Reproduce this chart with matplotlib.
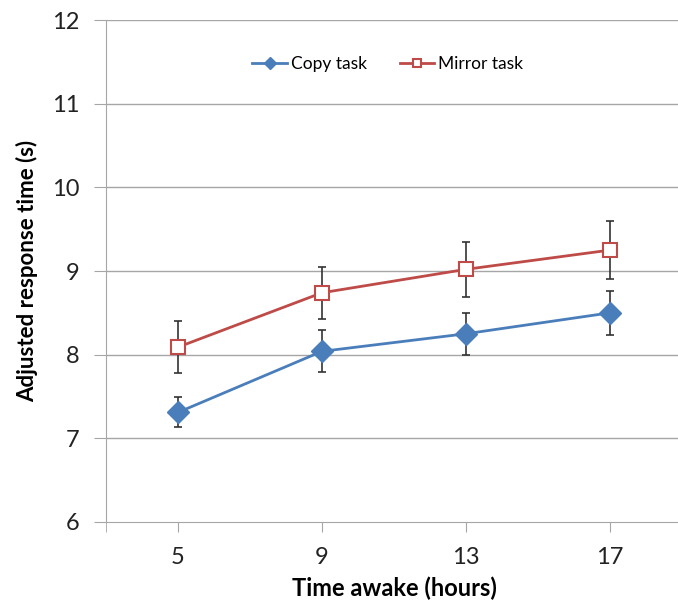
import matplotlib
matplotlib.use("Agg")
import matplotlib.pyplot as plt
import numpy as np

plt.rcParams['font.family'] = ['Lato', 'DejaVu Sans']

hours = ["5", "9", "13", "17"]
copy_mean = [7.31, 8.04, 8.25, 8.50]
copy_err = [0.18, 0.25, 0.25, 0.26]
mirror_mean = [8.09, 8.74, 9.02, 9.25]
mirror_err = [0.31, 0.31, 0.33, 0.35]
yticks = [6, 7, 8, 9, 10, 11, 12]

fig = plt.figure(figsize=(6.78, 6.05), dpi=100)
ax = fig.add_axes([106/678, 83/605, 576/678, 502/605])

x = np.arange(len(hours))
grid_col = "#a6a6a6"
for y in yticks[1:]:
    ax.axhline(y, color=grid_col, lw=1.0, zorder=0)

ax.errorbar(x, copy_mean, yerr=copy_err, fmt='none', ecolor='#333333', elinewidth=1.2,
            capsize=3, capthick=1.2, zorder=2)
ax.errorbar(x, mirror_mean, yerr=mirror_err, fmt='none', ecolor='#333333', elinewidth=1.2,
            capsize=3, capthick=1.2, zorder=2)
ax.plot(x, copy_mean, color='#4a7ebb', lw=2, marker='D', markersize=11,
        markerfacecolor='#4a7ebb', markeredgecolor='#4a7ebb', label='Copy task', zorder=3)
ax.plot(x, mirror_mean, color='#be4b48', lw=2, marker='s', markersize=10,
        markerfacecolor='white', markeredgecolor='#be4b48', markeredgewidth=1.5,
        label='Mirror task', zorder=3)

ax.set_xlim(-0.5, 3.5)
ax.set_ylim(6, 12)
ax.set_yticks(yticks)
ax.set_xticks(x)
ax.set_xticklabels(hours)
ax.set_xticks([-0.5], minor=True)

for s in ['top', 'right']:
    ax.spines[s].set_visible(False)
ax.spines['left'].set_color(grid_col)
ax.spines['bottom'].set_color(grid_col)
ax.tick_params(axis='y', length=9, color=grid_col, labelsize=17, pad=10, labelcolor='#222222')
ax.tick_params(axis='x', which='major', length=7, color=grid_col, labelsize=17, pad=11, labelcolor='#222222')
ax.tick_params(axis='x', which='minor', length=7, color=grid_col)

ax.set_xlabel('Time awake (hours)', fontsize=17, fontweight='bold', labelpad=6)
ax.set_ylabel('Adjusted response time (s)', fontsize=16, fontweight='bold', labelpad=10)

leg = ax.legend(loc='center', bbox_to_anchor=(0.489, 0.912), ncol=2, frameon=False,
                fontsize=12.5, handlelength=2.0, columnspacing=1.9, handletextpad=0.2,
                markerscale=0.6)

fig.savefig('out.png', dpi=100)
